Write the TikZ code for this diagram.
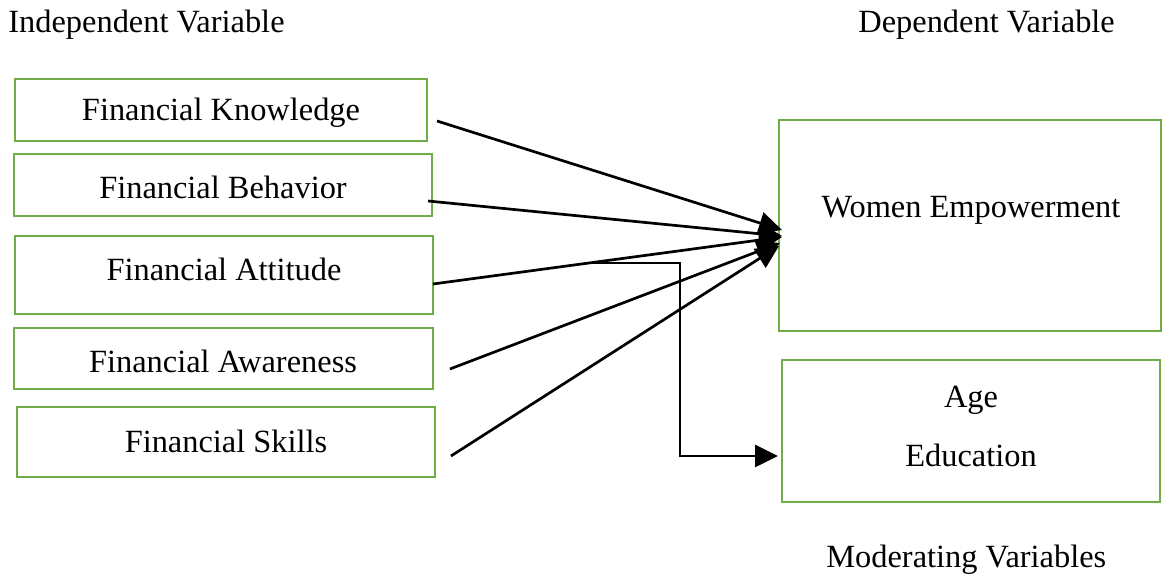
\documentclass[tikz,border=0pt]{standalone}
\usepackage{fontspec}
\setmainfont{Liberation Serif}
\usetikzlibrary{arrows.meta}
\definecolor{boxgreen}{RGB}{112,173,71}
\begin{document}
\begin{tikzpicture}[x=0.5pt,y=-0.5pt,
  every node/.style={font=\fontsize{16.2}{19}\selectfont, inner sep=0pt},
  box/.style={draw=boxgreen, line width=1.4pt},
  conn/.style={line width=1.35pt, -{Triangle[length=11.5pt,width=11pt]}},
  plain/.style={line width=1.35pt}]
\useasboundingbox (0,0) rectangle (1164,576);
% headings
\node[anchor=west] (iv) at (8,25) {Independent Variable};
\node[anchor=west] (dv) at (858,25) {Dependent Variable};
\node[anchor=west] (mv) at (826,560) {Moderating Variables};
% independent boxes
\draw[box] (15,79) rectangle (427,141);
\node (k) at (221,113) {Financial Knowledge};
\draw[box] (14,154) rectangle (432,216);
\node (b) at (223,187) {Financial Behavior};
\draw[box] (15,236) rectangle (433,314);
\node (at) at (224,269) {Financial Attitude};
\draw[box] (14,328) rectangle (433,389);
\node (aw) at (223,361) {Financial Awareness};
\draw[box] (17,407) rectangle (435,477);
\node (sk) at (226,441) {Financial Skills};
% dependent box
\draw[box] (779,120) rectangle (1161,331);
\node (we) at (971,210) {Women Empowerment};
% moderating box
\draw[box] (782,360) rectangle (1160,502);
\node (age) at (971,400) {Age};
\node (edu) at (971,455) {Education};
% connector start / end points
\coordinate (s1) at (437,121);
\coordinate (s2) at (428,201);
\coordinate (s3) at (433,284);
\coordinate (s4) at (450,369);
\coordinate (s5) at (451,456);
\coordinate (t1) at (782,230);
\coordinate (t2) at (782,236);
\coordinate (t3) at (782,237);
\coordinate (t4) at (780,243);
\coordinate (t5) at (779,246);
\coordinate (e0) at (585,263);
\coordinate (e1) at (680,263);
\coordinate (e2) at (680,456);
\coordinate (e3) at (778,456);
\draw[conn] (s1) -- (t1);
\draw[conn] (s2) -- (t2);
\draw[conn] (s3) -- (t3);
\draw[conn] (s4) -- (t4);
\draw[conn] (s5) -- (t5);
\draw[conn] (e0) -- (e1) -- (e2) -- (e3);
\end{tikzpicture}
\end{document}
